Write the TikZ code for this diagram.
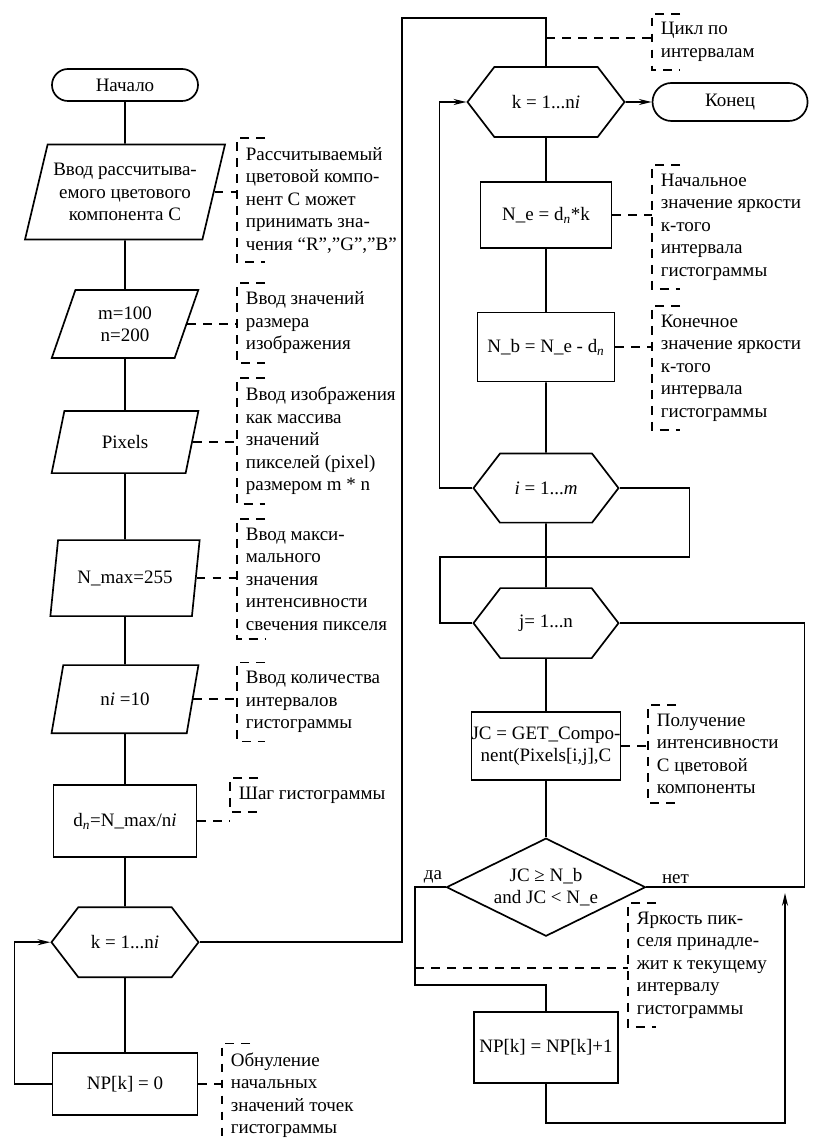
\documentclass[tikz,border=0pt]{standalone}
\usepackage{fontspec}
\setmainfont{Liberation Serif}
\usepackage{tikz}
\usetikzlibrary{arrows.meta,shapes.geometric,shapes.symbols}

\tikzset{
  term/.style={draw, rectangle, rounded corners=0.4cm, inner sep=0pt},
  io/.style={draw, trapezium, trapezium left angle=70, trapezium right angle=110,
    trapezium stretches=true, inner sep=0pt, align=center},
  proc/.style={draw, rectangle, inner sep=0pt, align=center},
  limit/.style={draw, signal, signal to=east and west, signal pointer angle=105, inner sep=0pt},
  decision/.style={draw, diamond, aspect=2, inner sep=0pt, align=center},
  note/.style={anchor=west, align=left, inner xsep=0.2cm, inner ysep=0.2cm},
  dashy/.style={dash pattern=on 0.22cm off 0.18cm}
}

\begin{document}
\begin{tikzpicture}[>={Stealth[length=0.32cm,width=0.15cm]}, line width=1.2pt,
    x=0.025cm, y=-0.025cm, font=\fontsize{13.5}{16}\selectfont]
  \useasboundingbox (0,0) rectangle (812,1141);

  % left column
  \node[term, minimum width=3.65cm, minimum height=0.8cm] (S) at (125,85) {Начало};
  \node[io, minimum width=5cm, minimum height=2.375cm] (in1) [below of=S, node distance=2.675cm]
    {Ввод рассчитыва-\\емого цветового\\компонента C};
  \node[io, minimum width=3.675cm, minimum height=1.7cm] (in2) [below of=in1, node distance=3.3cm]
    {m=100\\n=200};
  \node[io, minimum width=3.675cm, minimum height=1.55cm] (in3) [below of=in2, node distance=2.95cm]
    {Pixels};
  \node[io, minimum width=3.75cm, minimum height=1.9cm] (in4) [below of=in3, node distance=3.4cm]
    {N\_max=255};
  \node[io, minimum width=3.675cm, minimum height=1.7cm] (in5) [below of=in4, node distance=3.025cm]
    {n\textit{i} =10};
  \node[proc, minimum width=3.575cm, minimum height=1.8cm] (d) [below of=in5, node distance=3.05cm]
    {d\textsubscript{\textit{n}}=N\_max/n\textit{i}};
  \node[limit, minimum width=3.675cm, minimum height=1.75cm] (k1) [below of=d, node distance=3.025cm]
    {k = 1...n\textit{i}};
  \node[proc, minimum width=3.625cm, minimum height=1.55cm] (np0) [below of=k1, node distance=3.55cm]
    {NP[k] = 0};

  % right column
  \node[limit, minimum width=3.925cm, minimum height=1.75cm] (k2) at (546,102)
    {k = 1...n\textit{i}};
  \node[term, minimum width=3.875cm, minimum height=0.95cm, rounded corners=0.475cm] (fin)
    [right of=k2, node distance=4.6cm] {Конец};
  \node[proc, minimum width=3.275cm, minimum height=1.65cm] (ne) [below of=k2, node distance=2.825cm]
    {N\_e = d\textsubscript{\textit{n}}*k};
  \node[proc, minimum width=3.425cm, minimum height=1.725cm] (nb) [below of=ne, node distance=3.3cm]
    {N\_b = N\_e - d\textsubscript{\textit{n}}};
  \node[limit, minimum width=3.625cm, minimum height=1.725cm] (i) [below of=nb, node distance=3.525cm]
    {\textit{i} = 1...\textit{m}};
  \node[limit, minimum width=3.625cm, minimum height=1.75cm] (j) [below of=i, node distance=3.375cm]
    {j= 1...n};
  \node[proc, minimum width=3.625cm, minimum height=1.7cm] (jc) [below of=j, node distance=3.075cm]
    {JC = GET\_Compo-\\nent(Pixels[i,j],C};
  \node[decision, minimum width=4.975cm, minimum height=2.45cm] (dia) [below of=jc, node distance=3.525cm]
    {JC ≥ N\_b\\and JC < N\_e};
  \node[proc, minimum width=3.6cm, minimum height=1.775cm] (np1) [below of=dia, node distance=4cm]
    {NP[k] = NP[k]+1};
  \node[above left, inner sep=2pt] (yes) at (dia.west) {да};
  \node[above right, inner sep=2pt, xshift=0.3cm] (no) at (dia.east) {нет};

  % comments
  \node[note] (a1) at (237,200) {Рассчитываемый\\цветовой компо-\\нент C может\\принимать зна-\\чения “R”,”G”,”B”};
  \node[note] (a2) at (237,323) {Ввод значений\\размера\\изображения};
  \node[note] (a3) at (237,441) {Ввод изображения\\как массива\\ значений\\пикселей (pixel)\\размером m * n};
  \node[note] (a4) at (237,579) {Ввод макси-\\мального\\значения\\интенсивности\\свечения пикселя};
  \node[note] (a5) at (237,702) {Ввод количества\\интервалов\\гистограммы};
  \node[note] (a6) at (230,795) {Шаг гистограммы};
  \node[note] (a7) at (222,1095) {Обнуление\\начальных\\значений точек\\гистограммы};
  \node[note] (b0) at (652,42) {Цикл по\\интервалам};
  \node[note] (b1) at (652,227) {Начальное\\значение яркости\\к-того\\интервала\\гистограммы};
  \node[note] (b2) at (652,368) {Конечное\\значение яркости\\к-того\\интервала\\гистограммы};
  \node[note] (b3) at (648,754) {Получение\\интенсивности\\С цветовой\\компоненты};
  \node[note] (b4) at (628,965) {Яркость пик-\\селя принадле-\\жит к текущему\\интервалу\\гистограммы};

  \coordinate (c1) at (402,18);
  \coordinate (c2) at (440,557);
  \coordinate (c3) at (415,985);
  \coordinate (c4) at (785,1123);
  \coordinate (c5) at (785,893);
  \coordinate (c6) at (546,38);
  \coordinate (c7) at (415,968);

  \path (S) edge (in1) (in1) edge (in2) (in2) edge (in3) (in3) edge (in4)
    (in4) edge (in5) (in5) edge (d) (d) edge (k1) (k1) edge (np0);
  \path (k2) edge (ne) (ne) edge (nb) (nb) edge (i) (i) edge (j)
    (j) edge (jc) (jc) edge (dia)
    (k2) edge[->] (fin);

  \draw[->] (np0.west) -- ++(-37,0) |- (k1.west);
  \draw (k1.east) -| (c1) -| (k2.north);
  \draw[->] (i.west) -- ++(-33,0) |- (k2.west);
  \draw (i.east) -- ++(70,0) |- (c2) |- (j.west);
  \draw (j.east) -- ++(185,0) |- (dia.east);
  \draw (dia.west) -| (c3) -| (np1.north);
  \draw[->] (np1.south) |- (c4) -- (c5);

  \foreach \n in {a1,a2,a3,a4,a5,a6,a7,b0,b1,b2,b3,b4}
    \draw[dashy] ([xshift=0.7cm]\n.north west) -- (\n.north west) -- (\n.south west)
      -- ([xshift=0.7cm]\n.south west);

  \draw[dashy] (in1.east) -- (in1.east -| a1.west);
  \draw[dashy] (in2.east) -- (in2.east -| a2.west);
  \draw[dashy] (in3.east) -- (in3.east -| a3.west);
  \draw[dashy] (in4.east) -- (in4.east -| a4.west);
  \draw[dashy] (in5.east) -- (in5.east -| a5.west);
  \draw[dashy] (d.east) -- (d.east -| a6.west);
  \draw[dashy] (np0.east) -- (np0.east -| a7.west);
  \draw[dashy] (c6) -- (c6 -| b0.west);
  \draw[dashy] (ne.east) -- (ne.east -| b1.west);
  \draw[dashy] (nb.east) -- (nb.east -| b2.west);
  \draw[dashy] (jc.east) -- (jc.east -| b3.west);
  \draw[dashy] (c7) -- (c7 -| b4.west);
\end{tikzpicture}
\end{document}
